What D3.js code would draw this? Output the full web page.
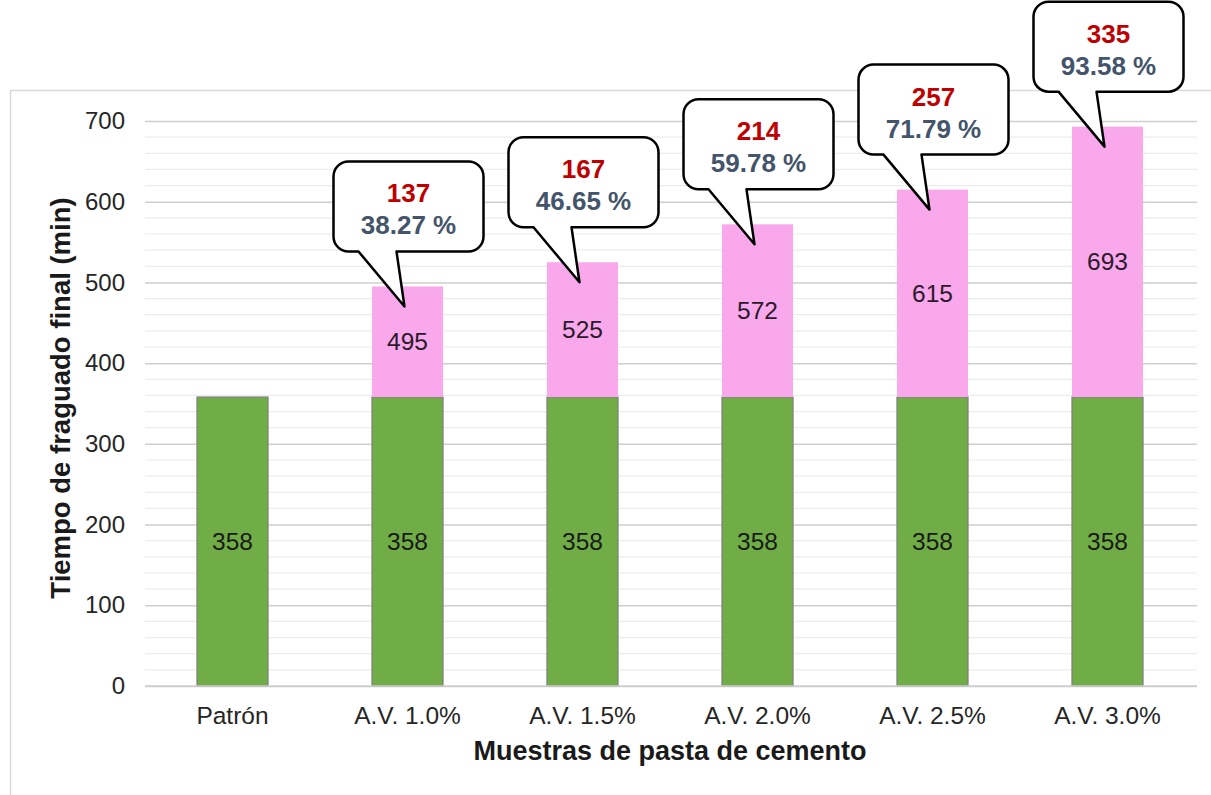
<!DOCTYPE html>
<html lang="es">
<head>
    <meta charset="UTF-8">
    <title>Tiempo de fraguado final</title>
    <script src="https://d3js.org/d3.v7.min.js"></script>
    <style>
        body { margin: 0; background: #fff; }
        text { font-family: 'Liberation Sans', Arial, sans-serif; }
    </style>
</head>
<body>
<script>
    const width = 1211;
    const height = 795;

    // data
    const categories = ['Patrón', 'A.V. 1.0%', 'A.V. 1.5%', 'A.V. 2.0%', 'A.V. 2.5%', 'A.V. 3.0%'];
    const baseValues = [358, 358, 358, 358, 358, 358];
    const totalValues = [358, 495, 525, 572, 615, 693];
    const yTicks = [0, 100, 200, 300, 400, 500, 600, 700];

    const table = categories.map((c, i) => ({
        cat: c,
        base: baseValues[i],
        extra: totalValues[i] - baseValues[i],
        total: totalValues[i]
    }));

    const svg = d3.select('body').append('svg').attr('width', width).attr('height', height);

    // outer chart frame
    svg.append('rect')
        .attr('x', 10.5).attr('y', 90.5)
        .attr('width', 1220).attr('height', 720)
        .attr('fill', 'none').attr('stroke', '#d9d9d9').attr('stroke-width', 1.5);

    const x = d3.scaleBand().domain(categories).range([145, 1195]).paddingInner(0.594).paddingOuter(0.297);
    const y = d3.scaleLinear().domain([0, 700]).range([686, 121]);

    // gridlines
    const minor = d3.range(20, 701, 20).filter(v => v % 100 !== 0);
    svg.append('g').selectAll('line').data(minor).join('line')
        .attr('x1', 145).attr('x2', 1197)
        .attr('y1', d => y(d)).attr('y2', d => y(d))
        .attr('stroke', '#ececec').attr('stroke-width', 1.2);

    const yAxis = svg.append('g')
        .attr('transform', 'translate(145,0)')
        .call(d3.axisLeft(y).tickValues(yTicks).tickSize(-1052).tickPadding(20));
    yAxis.select('.domain').remove();
    yAxis.selectAll('.tick line').attr('stroke', '#cfcfcf').attr('stroke-width', 1.5);
    yAxis.selectAll('.tick text').attr('font-size', 24).attr('fill', '#262626')
        .attr('font-family', "'Liberation Sans', Arial, sans-serif");

    // stacked bars
    const stack = d3.stack().keys(['base', 'extra'])(table);
    const colors = {base: '#70ad47', extra: '#f9a8ec'};

    svg.append('g').selectAll('g').data(stack).join('g')
        .attr('fill', d => colors[d.key])
        .selectAll('rect').data(d => d.map(p => Object.assign({key: d.key}, p))).join('rect')
        .filter(d => d[1] > d[0])
        .attr('x', d => x(d.data.cat))
        .attr('width', x.bandwidth())
        .attr('y', d => y(d[1]))
        .attr('height', d => y(d[0]) - y(d[1]))
        .attr('stroke', d => d.key === 'base' ? '#7f7f7f' : 'none')
        .attr('stroke-width', 1.2);

    // x axis line
    svg.append('line')
        .attr('x1', 145).attr('x2', 1197).attr('y1', y(0)).attr('y2', y(0))
        .attr('stroke', '#cfcfcf').attr('stroke-width', 1.5);

    // category labels
    svg.append('g').selectAll('text').data(categories).join('text')
        .attr('x', d => x(d) + x.bandwidth() / 2)
        .attr('y', 724)
        .attr('text-anchor', 'middle')
        .attr('font-size', 24.5).attr('fill', '#262626')
        .text(d => d);

    // value labels inside segments
    svg.append('g').selectAll('text').data(table).join('text')
        .attr('x', d => x(d.cat) + x.bandwidth() / 2)
        .attr('y', d => y(d.base / 2))
        .attr('dy', '0.35em')
        .attr('text-anchor', 'middle')
        .attr('font-size', 24.5).attr('fill', '#1a1a1a')
        .text(d => d.base);

    svg.append('g').selectAll('text').data(table.filter(d => d.extra > 0)).join('text')
        .attr('x', d => x(d.cat) + x.bandwidth() / 2)
        .attr('y', d => y((d.base + d.total) / 2))
        .attr('dy', '0.35em')
        .attr('text-anchor', 'middle')
        .attr('font-size', 24.5).attr('fill', '#2a1a2a')
        .text(d => d.total);

    // callouts
    function callout(cx, top) {
        const L = cx - 74, R = L + 150, T = top - 125, B = top - 35, r = 15;
        const p = d3.path();
        p.moveTo(L + r, T);
        p.lineTo(R - r, T);
        p.arcTo(R, T, R, T + r, r);
        p.lineTo(R, B - r);
        p.arcTo(R, B, R - r, B, r);
        p.lineTo(L + 63, B);
        p.lineTo(cx - 3, top + 20);
        p.lineTo(L + 25, B);
        p.lineTo(L + r, B);
        p.arcTo(L, B, L, B - r, r);
        p.lineTo(L, T + r);
        p.arcTo(L, T, L + r, T, r);
        p.closePath();
        return {d: p.toString(), mid: (L + R) / 2, T};
    }

    svg.append('g').selectAll('g').data(table.filter(d => d.extra > 0)).join('g')
        .each(function(d) {
            const cx = x(d.cat) + x.bandwidth() / 2;
            const c = callout(cx, y(d.total));
            const g = d3.select(this);
            g.append('path').attr('d', c.d)
                .attr('fill', '#fff').attr('stroke', '#000').attr('stroke-width', 2.5)
                .attr('stroke-linejoin', 'round');
            g.append('text')
                .attr('x', c.mid).attr('y', c.T + 41)
                .attr('text-anchor', 'middle')
                .attr('font-size', 26).attr('font-weight', 'bold').attr('fill', '#c00000')
                .text(d.extra);
            g.append('text')
                .attr('x', c.mid).attr('y', c.T + 73)
                .attr('text-anchor', 'middle')
                .attr('font-size', 26).attr('font-weight', 'bold').attr('fill', '#44546a')
                .text(d3.format('.2f')(d.extra / d.base * 100) + ' %');
        });

    // axis titles
    svg.append('text')
        .attr('x', 670).attr('y', 760)
        .attr('text-anchor', 'middle')
        .attr('font-size', 27).attr('font-weight', 'bold').attr('fill', '#1a1a1a')
        .text('Muestras de pasta de cemento');

    svg.append('text')
        .attr('transform', 'translate(70,398) rotate(-90)')
        .attr('text-anchor', 'middle')
        .attr('font-size', 27.5).attr('font-weight', 'bold').attr('fill', '#1a1a1a')
        .text('Tiempo de fraguado final (min)');
</script>
</body>
</html>
